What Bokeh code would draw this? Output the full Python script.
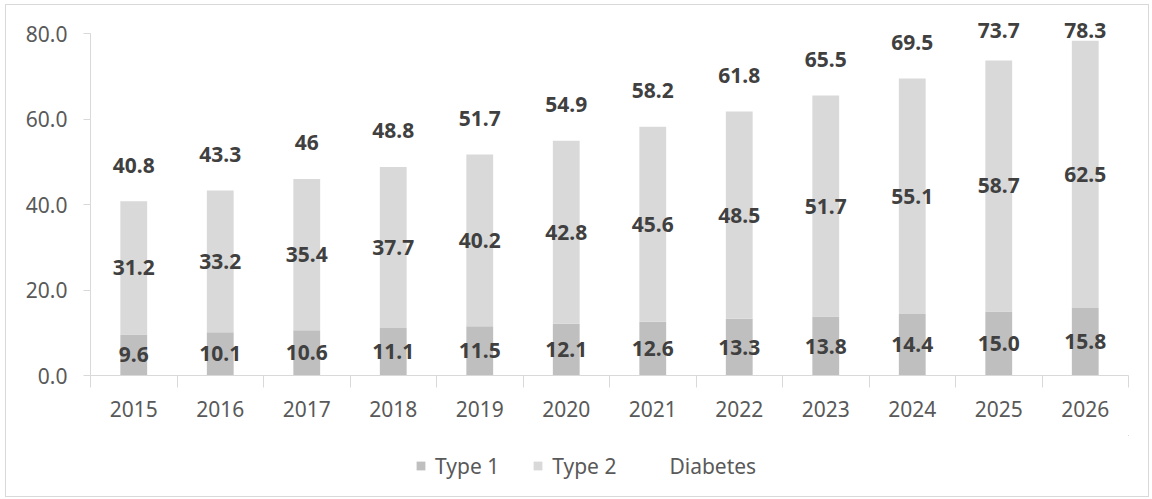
import numpy as np
from bokeh.plotting import figure
from bokeh.layouts import column
from bokeh.models import (FixedTicker, NumeralTickFormatter, Legend, LegendItem,
                          Range1d, ColumnDataSource)
from bokeh.core.properties import value
from bokeh.embed import file_html
from bokeh.resources import INLINE

# ---- data ----
years = ["2015", "2016", "2017", "2018", "2019", "2020",
         "2021", "2022", "2023", "2024", "2025", "2026"]
type1 = [9.6, 10.1, 10.6, 11.1, 11.5, 12.1, 12.6, 13.3, 13.8, 14.4, 15.0, 15.8]
type2 = [31.2, 33.2, 35.4, 37.7, 40.2, 42.8, 45.6, 48.5, 51.7, 55.1, 58.7, 62.5]
diabetes = [40.8, 43.3, 46, 48.8, 51.7, 54.9, 58.2, 61.8, 65.5, 69.5, 73.7, 78.3]
y_ticks = [0, 20, 40, 60, 80]
series_names = ["Type 1", "Type 2", "Diabetes"]

FONT = "Noto Sans"
C_T1 = "#bfbfbf"
C_T2 = "#d9d9d9"
C_AX = "#d9d9d9"
C_TXT = "#595959"
C_VAL = "#404040"

n = len(years)
xc = np.arange(n) + 0.5
t1 = np.array(type1)
t2 = np.array(type2)
tot = np.array(diabetes)

Y_END = 84.0
FRAME_H = 359
ppu = FRAME_H / Y_END
label_gap = 36 / ppu          # label offset above total (px -> data)
label_cap = 80.7              # top-most label position (kept in plot area)

src = ColumnDataSource(dict(
    x=xc,
    t1=t1,
    t12=t1 + t2,
    tot=tot,
    y_t1=t1 / 2,
    y_t2=t1 + t2 / 2,
    y_tot=np.minimum(tot + label_gap, label_cap),
    lab_t1=[f"{v:.1f}" for v in type1],
    lab_t2=[f"{v:.1f}" for v in type2],
    lab_tot=[f"{v:g}" for v in diabetes],
))

# ---------------- main chart ----------------
p = figure(frame_width=1038, frame_height=FRAME_H,
           min_border_left=84, min_border_right=20,
           min_border_top=11, min_border_bottom=60,
           x_range=Range1d(0, n), y_range=Range1d(0, Y_END),
           output_backend="svg", toolbar_location=None,
           background_fill_color="white", border_fill_color="white")
p.outline_line_color = None
p.grid.visible = False

p.vbar(x="x", top="t1", bottom=0, width=0.31, fill_color=C_T1,
       line_color=None, source=src)
p.vbar(x="x", top="t12", bottom="t1", width=0.31, fill_color=C_T2,
       line_color=None, source=src)
p.line(x="x", y="tot", line_alpha=0, source=src)

common = dict(text_align="center", text_baseline="middle",
              text_font=value(FONT), text_font_size="21px",
              text_font_style="bold", text_color=C_VAL, source=src)
p.text(x="x", y="y_t1", text="lab_t1", **common)
p.text(x="x", y="y_t2", text="lab_t2", **common)
p.text(x="x", y="y_tot", text="lab_tot", **common)

# x axis
xa = p.xaxis[0]
xa.ticker = FixedTicker(ticks=list(xc), minor_ticks=list(range(n + 1)))
xa.major_label_overrides = {float(v): y for v, y in zip(xc, years)}
xa.axis_line_color = C_AX
xa.major_tick_line_color = None
xa.major_tick_out = 0
xa.major_tick_in = 0
xa.minor_tick_line_color = C_AX
xa.minor_tick_out = 12
xa.minor_tick_in = 0
xa.major_label_standoff = 13
xa.major_label_text_font = FONT
xa.major_label_text_font_size = "21px"
xa.major_label_text_color = C_TXT

# y axis
ya = p.yaxis[0]
ya.ticker = FixedTicker(ticks=y_ticks)
ya.formatter = NumeralTickFormatter(format="0.0")
ya.bounds = (0, 80)
ya.axis_line_color = C_AX
ya.major_tick_line_color = C_AX
ya.major_tick_out = 7
ya.major_tick_in = 0
ya.minor_tick_line_color = None
ya.major_label_standoff = 16
ya.major_label_text_font = FONT
ya.major_label_text_font_size = "21px"
ya.major_label_text_color = C_TXT

# ---------------- legend strip ----------------
# legend renderers share the data source; the strip's ranges keep them out of view
LEG_H = 61
pl = figure(width=1142, height=LEG_H, min_border=0,
            x_range=Range1d(-100, -99), y_range=Range1d(-2, -1),
            x_axis_type=None, y_axis_type=None,
            output_backend="svg", toolbar_location=None,
            background_fill_color="white", border_fill_color="white")
pl.outline_line_color = None
pl.grid.visible = False
lr1 = pl.vbar(x="x", top="t1", bottom=0, width=0.31, fill_color=C_T1,
              line_color=None, source=src)
lr2 = pl.vbar(x="x", top="t12", bottom="t1", width=0.31, fill_color=C_T2,
              line_color=None, source=src)
lr3 = pl.line(x="x", y="tot", line_alpha=0, source=src)

legend = Legend(items=[LegendItem(label=series_names[0], renderers=[lr1]),
                       LegendItem(label=series_names[1], renderers=[lr2]),
                       LegendItem(label=series_names[2], renderers=[lr3])],
                location=(325, 16), orientation="horizontal",
                border_line_alpha=0, background_fill_alpha=0,
                padding=0, margin=0, spacing=33,
                glyph_width=11, glyph_height=11, label_standoff=9,
                label_height=29,
                label_text_font=FONT, label_text_font_size="21px",
                label_text_color=C_TXT)
pl.add_layout(legend)

layout = column(p, pl, spacing=0,
                styles={"border": "1px solid #d9d9d9",
                        "margin-left": "5px", "margin-top": "4px",
                        "background-color": "white"})

open("out.html", "w").write(file_html(layout, INLINE))
